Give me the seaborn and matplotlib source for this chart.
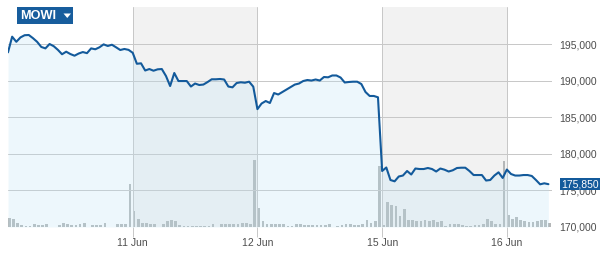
import numpy as np
import pandas as pd
import matplotlib
matplotlib.use("Agg")
import matplotlib.pyplot as plt
import matplotlib.transforms as mtransforms
from matplotlib.patches import Rectangle, Polygon
import seaborn as sns

# ---------------- data ----------------
ticker = "MOWI"
last_price = 175850
last_price_label = "175,850"
day_labels = ["10 Jun", "11 Jun", "12 Jun", "15 Jun", "16 Jun"]
y_ticks = [170000, 175000, 180000, 185000, 190000, 195000]
y_tick_labels = ["170,000", "175,000", "180,000", "185,000", "190,000", "195,000"]
steps_per_day = 30

price_10jun = [193860, 196000, 195300, 195900, 196200, 196230, 195800, 195300, 194600, 194400,
               195000, 194700, 194200, 193600, 193950, 193630, 193400, 193700, 193900, 193750,
               194400, 194280, 194550, 194950, 194730, 194900, 194550, 194180, 194320, 194200]
price_11jun = [193800, 192300, 192360, 191380, 191580, 191350, 191540, 191580, 190630, 189260,
               191040, 189940, 189940, 189940, 189190, 189600, 189400, 189460, 189800, 190180,
               190180, 190220, 190150, 189190, 189080, 189670, 189770, 189710, 189850, 189170]
price_12jun = [186100, 186870, 187210, 186940, 188300, 188100, 188440, 188780, 189120, 189460,
               189600, 189940, 190080, 190010, 190150, 190010, 190490, 190450, 190700, 190700,
               190420, 189740, 189810, 189850, 189850, 189530, 188440, 187900, 187900, 187720]
price_15jun = [177650, 178130, 176420, 176240, 176900, 177030, 177650, 177170, 177990, 177920,
               177920, 178060, 177920, 177580, 177990, 177830, 177580, 177750, 178060, 178100,
               178100, 177650, 177100, 177100, 177100, 176350, 176420, 177030, 177470, 176700]
price_16jun = [177850, 177240, 177030, 177030, 177100, 177100, 176970, 176420, 175830, 175970,
               175850]

vol_10jun = [87, 77, 43, 20, 10, 13, 33, 20, 20, 33, 3, 3, 20, 43, 33, 20, 20, 27, 43, 3,
             20, 17, 20, 43, 3, 3, 27, 27, 27, 427]
vol_11jun = [160, 77, 40, 43, 27, 27, 5, 27, 57, 67, 57, 23, 13, 13, 13, 13, 13, 13, 13, 27,
             5, 33, 33, 30, 33, 27, 37, 37, 27, 667]
vol_12jun = [190, 57, 33, 33, 33, 33, 33, 7, 13, 33, 33, 23, 23, 23, 23, 23, 23, 33, 0, 13,
             23, 33, 33, 23, 23, 33, 67, 40, 57, 613]
vol_15jun = [20, 247, 223, 207, 107, 183, 73, 73, 57, 57, 73, 57, 73, 47, 63, 13, 33, 33, 33, 23,
             13, 13, 23, 23, 33, 83, 57, 33, 33, 657]
vol_16jun = [123, 83, 100, 73, 57, 47, 47, 63, 73, 73, 40]

prices = [price_10jun, price_11jun, price_12jun, price_15jun, price_16jun]
volumes = [vol_10jun, vol_11jun, vol_12jun, vol_15jun, vol_16jun]

rows = []
for d, (p, v) in enumerate(zip(prices, volumes)):
    for i, (pp, vv) in enumerate(zip(p, v)):
        rows.append({"t": d + i / steps_per_day, "price": pp, "volume": vv})
df = pd.DataFrame(rows)

# ---------------- style ----------------
sns.set_theme(style="white")
plt.rcParams['font.family'] = ['Liberation Sans', 'DejaVu Sans']

LINE = '#135a9b'
GRID = '#c8c8c8'
TXT = '#4d4d4d'

W, H = 603, 258
fig = plt.figure(figsize=(W / 100, H / 100), dpi=100)
fig.patch.set_facecolor('white')
pos = [8 / W, 31 / H, 544 / W, 220 / H]
ax_v = fig.add_axes(pos)
ax_p = fig.add_axes(pos)
ax_p.patch.set_visible(False)
xmax = 4.362
for ax in (ax_v, ax_p):
    ax.set_xlim(0, xmax)
    for s in ax.spines.values():
        s.set_visible(False)

# alternating day shading
for d in (1, 3):
    ax_v.axvspan(d, d + 1, color='#f2f2f2', lw=0)
ax_v.bar(df["t"], df["volume"], width=0.65 / steps_per_day, align='edge',
         color='#b4b7b8', lw=0)
ax_v.set_ylim(0, 2200)
ax_v.set_xticks([])
ax_v.set_yticks([])

# price
ax_p.fill_between(df["t"], df["price"], 170000, color='#bbe3f7', alpha=0.25, lw=0)
sns.lineplot(data=df, x="t", y="price", ax=ax_p, color=LINE, lw=1.5,
             estimator=None, sort=False)
ax_p.set_ylim(170000, 200055)
ax_p.set_xlabel("")
ax_p.set_ylabel("")

ax_p.set_yticks(y_ticks)
ax_p.set_yticklabels(y_tick_labels)
ax_p.yaxis.tick_right()
ax_p.tick_params(axis='y', length=0, pad=5, labelsize=7.5, labelcolor=TXT)
ax_p.set_xticks([1, 2, 3, 4])
ax_p.set_xticklabels(day_labels[1:])
ax_p.tick_params(axis='x', bottom=True, length=7, width=0.72, color=GRID, pad=1,
                 labelsize=7.5, labelcolor=TXT)
ax_p.set_axisbelow(True)
ax_p.grid(True, axis='both', color=GRID, lw=0.72)

# last price tag
blend = mtransforms.blended_transform_factory(ax_p.transAxes, ax_p.transData)
ax_p.text(1.0175, last_price, last_price_label, transform=blend, ha='left', va='center',
          fontsize=7.5, color='white', clip_on=False, zorder=10,
          bbox=dict(boxstyle='square,pad=0.12', facecolor=LINE, edgecolor='none'))

# ticker tag
fig.patches.append(Rectangle((17 / W, 1 - 24 / H), 56 / W, 17 / H, transform=fig.transFigure,
                             facecolor='#175d9d', edgecolor='none', zorder=5))
fig.text(20.5 / W, 1 - 15.8 / H, ticker, color='white', fontsize=9.2, fontweight='bold',
         ha='left', va='center', zorder=6)
fig.patches.append(Polygon([(63.5 / W, 1 - 13.5 / H), (71 / W, 1 - 13.5 / H), (67.25 / W, 1 - 18 / H)],
                           closed=True, transform=fig.transFigure, facecolor='white',
                           edgecolor='none', zorder=6))

fig.savefig("out.png", dpi=100)
